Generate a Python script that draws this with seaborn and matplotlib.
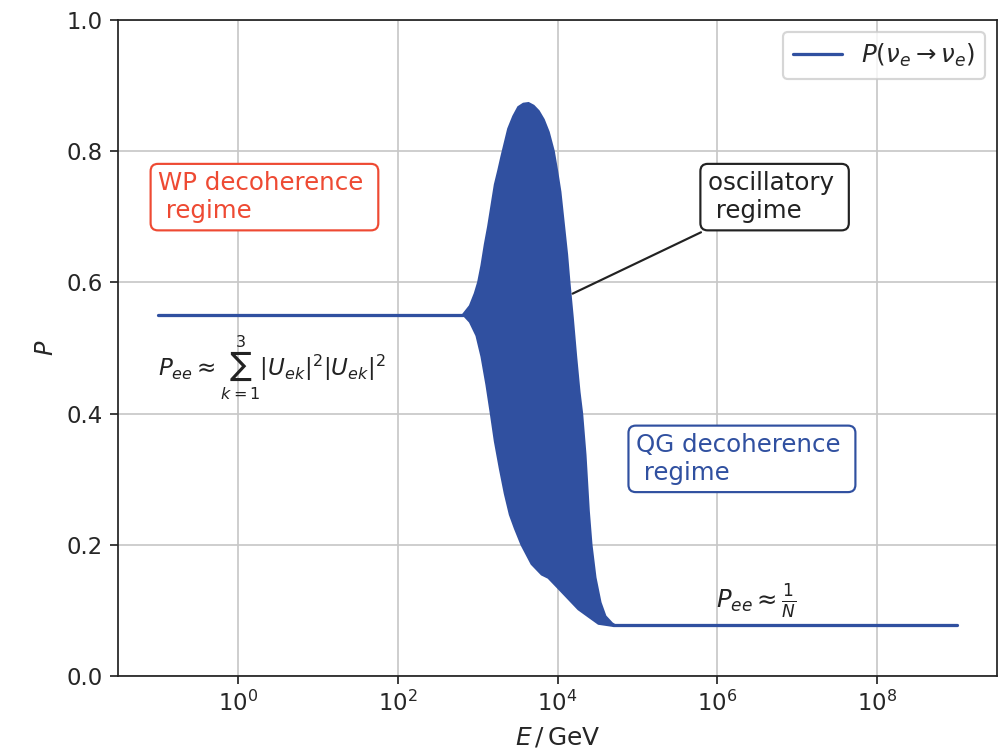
import numpy as np
import pandas as pd
import matplotlib
matplotlib.use("Agg")
import matplotlib.pyplot as plt
import seaborn as sns

# ---- data ----
# flat (WP decoherence) plateau
flat_low_E = [1e-1, 10**2.82]
flat_low_P = [0.551, 0.551]
# flat (QG decoherence) plateau
flat_high_E = [10**4.70, 1e9]
flat_high_P = [0.077, 0.077]
# envelope of the dense oscillations (log10 E, P)
upper_logE = [2.822, 2.906, 2.968, 3.010, 3.052, 3.094, 3.135, 3.177, 3.219, 3.261,
              3.302, 3.344, 3.386, 3.449, 3.511, 3.574, 3.637, 3.699, 3.762, 3.825,
              3.887, 3.950, 3.992, 4.033, 4.075, 4.117, 4.146, 4.188, 4.230, 4.272,
              4.305, 4.347, 4.388, 4.422, 4.472, 4.535, 4.597, 4.681, 4.720]
upper_P = [0.551, 0.564, 0.583, 0.600, 0.626, 0.658, 0.685, 0.717, 0.749, 0.770,
           0.792, 0.813, 0.834, 0.853, 0.867, 0.872, 0.873, 0.869, 0.861, 0.848,
           0.829, 0.800, 0.770, 0.738, 0.690, 0.642, 0.600, 0.546, 0.487, 0.433,
           0.400, 0.337, 0.252, 0.200, 0.150, 0.112, 0.091, 0.080, 0.077]
lower_logE = [2.822, 2.906, 2.989, 3.052, 3.114, 3.169, 3.219, 3.282, 3.344, 3.407,
              3.470, 3.553, 3.678, 3.804, 3.887, 4.013, 4.138, 4.263, 4.388, 4.514,
              4.681, 4.720]
lower_P = [0.551, 0.540, 0.519, 0.487, 0.444, 0.400, 0.358, 0.316, 0.278, 0.246,
           0.225, 0.200, 0.171, 0.155, 0.150, 0.134, 0.118, 0.102, 0.091, 0.080,
           0.077, 0.077]

x_ticks = [1e0, 1e2, 1e4, 1e6, 1e8]
y_ticks = [0.0, 0.2, 0.4, 0.6, 0.8, 1.0]

BLUE = "#3050A0"
RED = "#EE4A33"
DARK = "#222222"

sns.set_style("ticks", {"axes.grid": True, "grid.color": "#c8c8c8",
                        "axes.edgecolor": DARK})
plt.rcParams["font.family"] = ["DejaVu Sans"]
plt.rcParams["mathtext.fontset"] = "dejavusans"

fig = plt.figure(figsize=(998 / 156, 752 / 156), dpi=156)
ax = fig.add_axes([118 / 998, 1 - 676 / 752, 879 / 998, 656 / 752])

low_df = pd.DataFrame({"E": flat_low_E, "P": flat_low_P})
high_df = pd.DataFrame({"E": flat_high_E, "P": flat_high_P})
sns.lineplot(data=low_df, x="E", y="P", ax=ax, color=BLUE, lw=1.5,
             label=r"$P(\nu_e \rightarrow \nu_e)$", sort=False, estimator=None)
sns.lineplot(data=high_df, x="E", y="P", ax=ax, color=BLUE, lw=1.5,
             sort=False, estimator=None, legend=False)

poly_E = np.concatenate([10 ** np.array(upper_logE), 10 ** np.array(lower_logE)[::-1]])
poly_P = np.concatenate([upper_P, lower_P[::-1]])
ax.fill(poly_E, poly_P, color=BLUE, lw=1.2, ec=BLUE, zorder=2)

ax.set_xscale("log")
ax.set_xlim(10**-1.5, 10**9.5)
ax.set_ylim(0, 1)
ax.set_xticks(x_ticks)
ax.set_yticks(y_ticks)
ax.xaxis.set_minor_locator(matplotlib.ticker.NullLocator())
ax.grid(True, which="major", color="#c8c8c8", lw=0.8)
ax.set_xlabel(r"$E\,/\,\mathrm{GeV}$", fontsize=11.5)
ax.set_ylabel(r"$P$", fontsize=11)
ax.tick_params(axis="both", labelsize=10.5, direction="out", length=3.5, width=0.8)
for s in ax.spines.values():
    s.set_linewidth(0.8)

FS = 11.3
ax.text(10**-1.0, 0.730, "WP decoherence \n regime", color=RED, fontsize=FS,
        ha="left", va="center",
        bbox=dict(boxstyle="round,pad=0.3", fc="white", ec=RED, lw=1.0))
ax.text(10**4.98, 0.331, "QG decoherence \n regime", color=BLUE, fontsize=FS,
        ha="left", va="center",
        bbox=dict(boxstyle="round,pad=0.3", fc="white", ec=BLUE, lw=1.0))
ax.annotate("oscillatory \n regime", xy=(10**4.14, 0.58), xytext=(10**5.88, 0.730),
            fontsize=FS, color=DARK, ha="left", va="center",
            bbox=dict(boxstyle="round,pad=0.3", fc="white", ec=DARK, lw=1.0),
            arrowprops=dict(arrowstyle="-", color=DARK, lw=1.0))
ax.text(10**-1.0, 0.47, r"$P_{ee} \approx \sum_{k=1}^{3}|U_{ek}|^2|U_{ek}|^2$",
        fontsize=10.6, color=DARK, ha="left", va="center")
ax.text(10**5.98, 0.114, r"$P_{ee} \approx \frac{1}{N}$", fontsize=11.2,
        color=DARK, ha="left", va="center")

leg = ax.legend(loc="upper right", fontsize=11.3, frameon=True)
leg.get_frame().set_edgecolor("#cccccc")

fig.savefig("out.png", dpi=156)
